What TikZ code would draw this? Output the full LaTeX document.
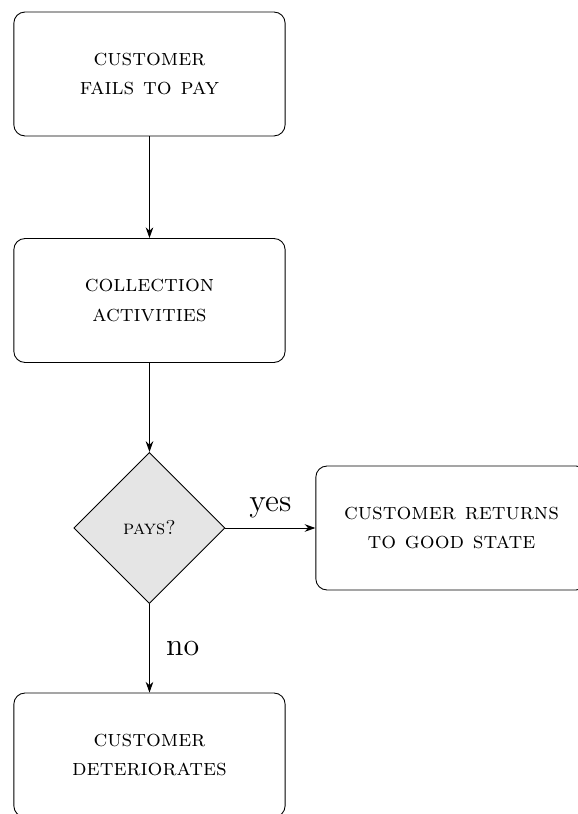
\documentclass[tikz,border=0pt]{standalone}
\usepackage{amsmath}
\usetikzlibrary{positioning, arrows.meta, shapes.geometric}

\begin{document}
\begin{tikzpicture}[
    >={Stealth[length=1.7mm, width=1.2mm]},
    stepbox/.style={draw, rectangle, rounded corners=5pt, minimum width=4.29cm, minimum height=1.96cm, align=center, font=\fontsize{10.5pt}{13.2pt}\selectfont\scshape},
    decision/.style={draw, diamond, aspect=1, minimum width=2.39cm, minimum height=2.39cm, inner sep=0pt, fill=gray!20, font=\small\scshape},
    lbl/.style={font=\Large},
    flow/.style={->, black}
]

% 1. Page frame (clips right and bottom boxes)
\useasboundingbox (0,0) rectangle (9.125,-12.873);

% 2. Main column
\node[stepbox] (fails) at (2.364,-1.170) {customer\\fails to pay};
\node[stepbox] (collect) at (2.364,-4.752) {collection\\activities};
\node[decision] (pays) at (2.364,-8.350) {pays?};
\node[stepbox] (worse) at (2.364,-11.940) {customer\\deteriorates};

% 3. Yes branch
\node[stepbox] (good) at (7.140,-8.350) {customer returns\\to good state};

% 4. Arrows
\draw[flow] (fails.south) -- (collect.north);
\draw[flow] (collect.south) -- (pays.north);
\draw[flow] (pays.east) -- (good.west) node[lbl, midway, above, yshift=1pt] {yes};
\draw[flow] (pays.south) -- (worse.north) node[lbl, midway, right, xshift=4pt] {no};

\end{tikzpicture}
\end{document}
